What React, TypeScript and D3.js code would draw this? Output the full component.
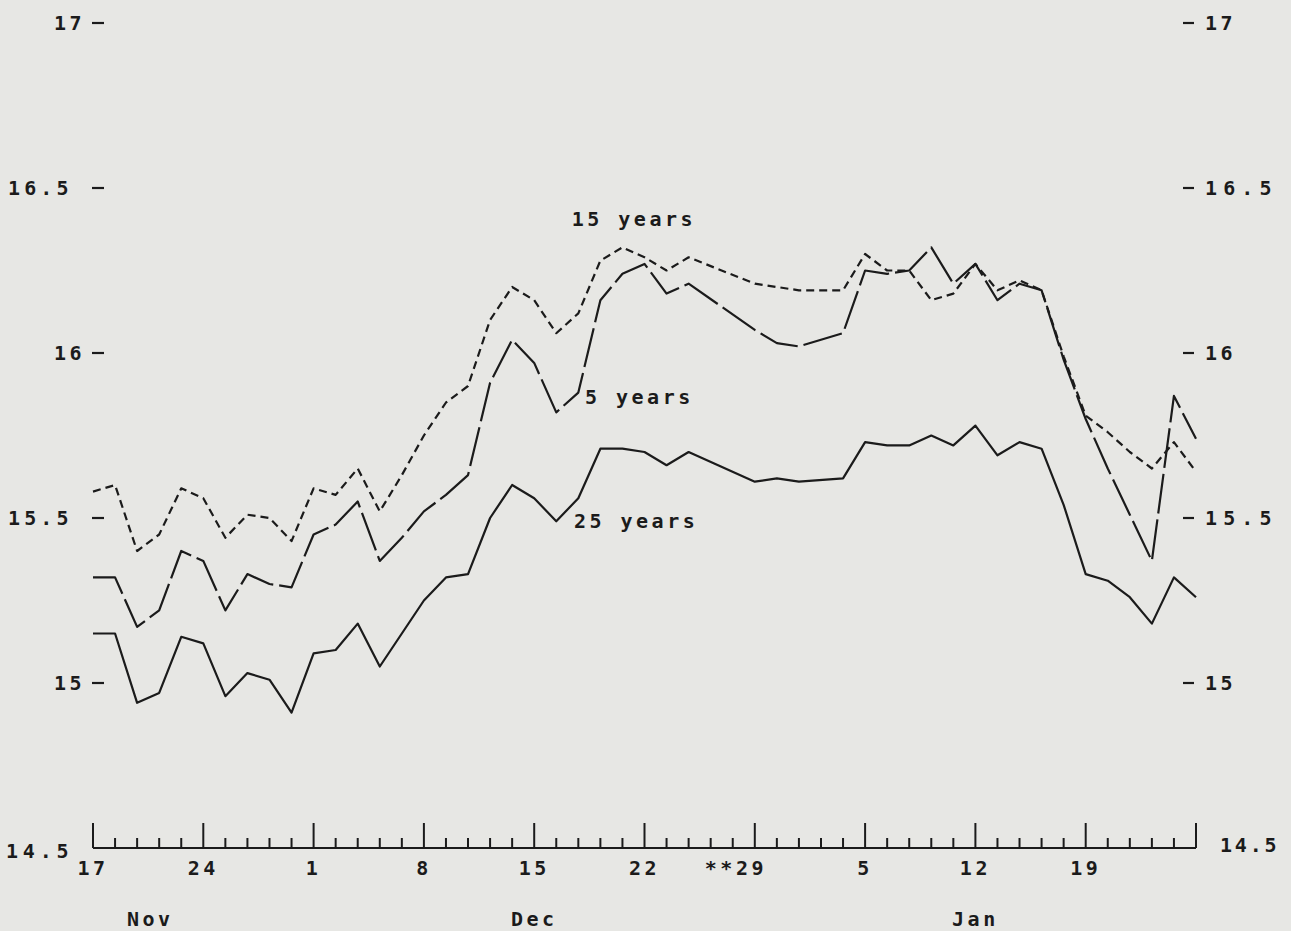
import React from "react";
import * as d3 from "d3";

// trading-day index (Mon 17 Nov = 0), holidays 25/26 Dec and 1 Jan omitted
const dayIndex = [
  0, 1, 2, 3, 4, 5, 6, 7, 8, 9, 10, 11, 12, 13, 14, 15, 16, 17, 18, 19, 20, 21, 22, 23, 24, 25, 26, 27,
  30, 31, 32,
  34, 35, 36, 37, 38, 39, 40, 41, 42, 43, 44, 45, 46, 47, 48, 49, 50,
];

const years25 = [
  15.15, 15.15, 14.94, 14.97, 15.14, 15.12, 14.96, 15.03, 15.01, 14.91, 15.09, 15.10, 15.18, 15.05,
  15.15, 15.25, 15.32, 15.33, 15.50, 15.60, 15.56, 15.49, 15.56, 15.71, 15.71, 15.70, 15.66, 15.70,
  15.61, 15.62, 15.61,
  15.62, 15.73, 15.72, 15.72, 15.75, 15.72, 15.78, 15.69, 15.73, 15.71, 15.54, 15.33, 15.31, 15.26,
  15.18, 15.32, 15.26,
];

const years5 = [
  15.32, 15.32, 15.17, 15.22, 15.40, 15.37, 15.22, 15.33, 15.30, 15.29, 15.45, 15.48, 15.55, 15.37,
  15.44, 15.52, 15.57, 15.63, 15.91, 16.04, 15.97, 15.82, 15.88, 16.16, 16.24, 16.27, 16.18, 16.21,
  16.07, 16.03, 16.02,
  16.06, 16.25, 16.24, 16.25, 16.32, 16.21, 16.27, 16.16, 16.21, 16.19, 15.98, 15.80, 15.65, 15.51,
  15.37, 15.87, 15.74,
];

const years15 = [
  15.58, 15.60, 15.40, 15.45, 15.59, 15.56, 15.44, 15.51, 15.50, 15.43, 15.59, 15.57, 15.65, 15.52,
  15.63, 15.75, 15.85, 15.90, 16.10, 16.20, 16.16, 16.06, 16.12, 16.28, 16.32, 16.29, 16.25, 16.29,
  16.21, 16.20, 16.19,
  16.19, 16.30, 16.25, 16.25, 16.16, 16.18, 16.27, 16.19, 16.22, 16.19, 15.99, 15.81, 15.76, 15.70,
  15.65, 15.73, 15.64,
];

const yTicks = [14.5, 15, 15.5, 16, 16.5, 17];
const yTickLabels = ["14.5", "15", "15.5", "16", "16.5", "17"];

const dayTickLabels = ["17", "24", "1", "8", "15", "22", "29", "5", "12", "19"];
const dayTickIdx = [0, 5, 10, 15, 20, 25, 30, 35, 40, 45];

const months = ["Nov", "Dec", "Jan"];
const monthIdx = [2.6, 20, 40];

const seriesLabels = ["15 years", "5 years", "25 years"];
const seriesLabelIdx = [21.7, 22.3, 21.8];
const seriesLabelVal = [16.385, 15.845, 15.47];

const W = 1291;
const H = 931;
const FONT = "'DejaVu Sans Mono', 'Liberation Mono', monospace";
const INK = "#1b1b1b";

export default function App() {
  const x = d3.scaleLinear().domain([0, 50]).range([93, 1196]);
  const y = d3.scaleLinear().domain([14.5, 17]).range([848, 23]);

  const mk = (vals: number[]) =>
    d3
      .line<number>()
      .x((_, i) => x(dayIndex[i]))
      .y((v) => y(v))(vals) as string;

  const ticks = d3.range(0, 51);
  const textStyle = {
    fontFamily: FONT,
    fontSize: 20,
    fontWeight: "bold",
    letterSpacing: 3.5,
    fill: INK,
  } as React.CSSProperties;

  return (
    <svg
      width={W}
      height={H}
      style={{ position: "absolute", left: 0, top: 0, display: "block" }}
    >
      <rect x={0} y={0} width={W} height={H} fill="#e7e7e4" />

      {/* series */}
      <path d={mk(years25)} fill="none" stroke={INK} strokeWidth={2.2} strokeLinejoin="round" />
      <path
        d={mk(years5)}
        fill="none"
        stroke={INK}
        strokeWidth={2.2}
        strokeDasharray="40 6"
        strokeLinejoin="round"
      />
      <path
        d={mk(years15)}
        fill="none"
        stroke={INK}
        strokeWidth={2.2}
        strokeDasharray="8 5"
        strokeLinejoin="round"
      />

      {/* x axis */}
      <line x1={x(0)} x2={x(50)} y1={y(14.5)} y2={y(14.5)} stroke={INK} strokeWidth={2} />
      {ticks.map((t) => (
        <line
          key={t}
          x1={x(t)}
          x2={x(t)}
          y1={y(14.5)}
          y2={y(14.5) - (t % 5 === 0 ? 25 : 10)}
          stroke={INK}
          strokeWidth={2}
        />
      ))}
      {dayTickLabels.map((l, i) =>
        l === "29" ? (
          <text key={l} x={x(dayTickIdx[i]) - 50} y={875} style={textStyle}>
            {"**29"}
          </text>
        ) : (
          <text key={l} x={x(dayTickIdx[i])} y={875} textAnchor="middle" style={textStyle}>
            {l}
          </text>
        )
      )}
      {months.map((m, i) => (
        <text key={m} x={x(monthIdx[i])} y={926} textAnchor="middle" style={textStyle}>
          {m}
        </text>
      ))}

      {/* y axis labels, left and right */}
      {yTicks.map((t, i) => {
        const lab = yTickLabels[i];
        const dec = lab.includes(".");
        if (t === 14.5) {
          return (
            <g key={t}>
              <text x={6} y={y(t) + 10} style={textStyle} textLength={66} lengthAdjust="spacing">
                {lab}
              </text>
              <text x={1220} y={y(t) + 4} style={textStyle} textLength={60} lengthAdjust="spacing">
                {lab}
              </text>
            </g>
          );
        }
        return (
          <g key={t}>
            {dec ? (
              <text x={8} y={y(t) + 7} style={textStyle} textLength={64} lengthAdjust="spacing">
                {lab}
              </text>
            ) : (
              <text x={85} y={y(t) + 7} textAnchor="end" style={textStyle}>
                {lab}
              </text>
            )}
            <line x1={92} x2={104} y1={y(t)} y2={y(t)} stroke={INK} strokeWidth={2.2} />
            <line x1={1183} x2={1194} y1={y(t)} y2={y(t)} stroke={INK} strokeWidth={2.2} />
            {dec ? (
              <text x={1205} y={y(t) + 7} style={textStyle} textLength={70} lengthAdjust="spacing">
                {lab}
              </text>
            ) : (
              <text x={1205} y={y(t) + 7} style={textStyle}>
                {lab}
              </text>
            )}
          </g>
        );
      })}

      {/* series labels */}
      {seriesLabels.map((s, i) => (
        <text key={s} x={x(seriesLabelIdx[i])} y={y(seriesLabelVal[i])} style={textStyle}>
          {s}
        </text>
      ))}
    </svg>
  );
}
